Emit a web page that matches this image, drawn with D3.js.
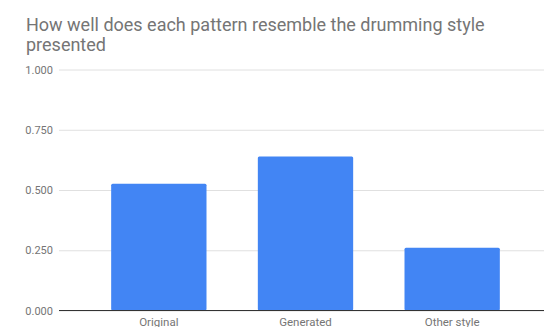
<!DOCTYPE html>
<html>
<head>
<meta charset="utf-8">
<script src="https://cdn.jsdelivr.net/npm/d3@7"></script>
<style>
  html, body { margin: 0; padding: 0; background: #fff; }
  svg { display: block; font-family: Roboto, Arial, sans-serif; }
</style>
</head>
<body>
<div id="chart"></div>
<script>
const categories = ["Original", "Generated", "Other style"];
const values = [0.526, 0.639, 0.260];
const yTicks = [0, 0.25, 0.5, 0.75, 1];
const titleLines = ["How well does each pattern resemble the drumming style", "presented"];

const width = 546, height = 327;
const plot = { left: 59, right: 544, top: 69.5, bottom: 310.5 };

const svg = d3.select("#chart").append("svg")
  .attr("width", width)
  .attr("height", height);

let y = d3.scaleLinear()
  .domain([0, 1])
  .range([plot.bottom, plot.top]);

let x = d3.scaleBand()
  .domain(categories)
  .range([85.5, 525.5])
  .paddingInner(0.35)
  .paddingOuter(0.175);

// title
svg.append("g")
  .selectAll("text")
  .data(titleLines)
  .enter()
  .append("text")
  .attr("x", 26)
  .attr("y", (d, i) => 31 + i * 20)
  .style("font-size", "18px")
  .style("fill", "#757575")
  .text(d => d);

// gridlines + y labels
let yAxis = d3.axisLeft(y)
  .tickValues(yTicks)
  .tickSize(-(plot.right - plot.left))
  .tickPadding(6)
  .tickFormat(d3.format(".3f"));

let gy = svg.append("g")
  .attr("transform", "translate(" + plot.left + ",0)")
  .call(yAxis);
gy.select(".domain").remove();
gy.selectAll(".tick line").attr("stroke", "#e0e0e0");
gy.selectAll(".tick text")
  .attr("fill", "#757575")
  .style("font-size", "11px")
  .style("font-family", "Roboto, Arial, sans-serif");

// bars
svg.append("g")
  .selectAll("rect")
  .data(values)
  .enter()
  .append("rect")
  .attr("x", (d, i) => x(categories[i]))
  .attr("width", x.bandwidth())
  .attr("y", d => y(d))
  .attr("height", d => y(0) - y(d))
  .attr("rx", 1.5)
  .attr("fill", "#4285f4");

// baseline
svg.append("line")
  .attr("x1", plot.left)
  .attr("x2", plot.right)
  .attr("y1", y(0))
  .attr("y2", y(0))
  .attr("stroke", "#333")
  .attr("stroke-width", 1);

// x labels
let xAxis = d3.axisBottom(x).tickSize(0).tickPadding(0);
let gx = svg.append("g")
  .attr("transform", "translate(0," + plot.bottom + ")")
  .call(xAxis);
gx.select(".domain").remove();
gx.selectAll(".tick text")
  .attr("fill", "#757575")
  .attr("y", 15.5)
  .attr("dy", 0)
  .style("font-size", "11.5px")
  .style("font-family", "Roboto, Arial, sans-serif");
</script>
</body>
</html>
